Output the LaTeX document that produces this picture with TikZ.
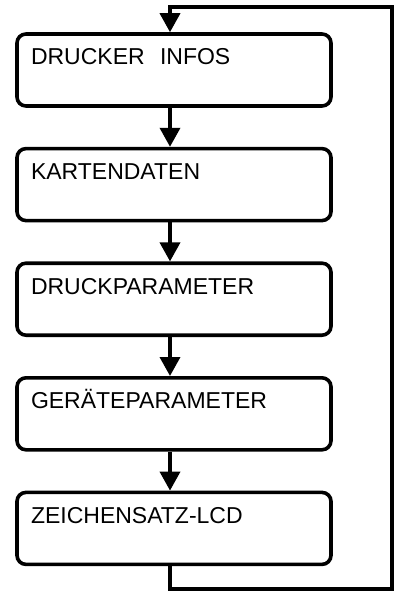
\documentclass[tikz,border=0pt]{standalone}
\usepackage{fontspec}
\setmainfont{Liberation Sans}
\usetikzlibrary{positioning,arrows.meta}

\begin{document}
\begin{tikzpicture}[x=1pt,y=-1pt,node distance=39pt,
        every node/.style={font=\fontsize{23}{26}\selectfont},
        menubox/.style={shape=rectangle,draw,line width=3.6pt,rounded corners=9pt,
            minimum width=314pt,minimum height=72pt,text width=286pt,align=left,
            inner xsep=14pt,inner ysep=0pt,text height=31pt,text depth=41pt},
        flow/.style={draw,line width=3.6pt,line join=miter,-{Triangle[width=20pt,length=19pt]}},
        ]
\useasboundingbox (0,0) rectangle (397,591);

\node [menubox] (drucker) at (174,70) {DRUCKER\ \ INFOS};
\node [menubox, below=of drucker] (karten) {KARTENDATEN};
\node [menubox, below=of karten] (druckpar) {DRUCKPARAMETER};
\node [menubox, below=of druckpar] (geraet) {GER\"ATEPARAMETER};
\node [menubox, below=of geraet] (zeichen) {ZEICHENSATZ-LCD};

% Ruecksprung
\coordinate (loopbot) at (392,589);
\coordinate (looptop) at (392,7);

\path[flow] ([xshift=-4pt]drucker.south) -- ([xshift=-4pt]karten.north);
\path[flow] ([xshift=-4pt]karten.south) -- ([xshift=-4pt]druckpar.north);
\path[flow] ([xshift=-4pt]druckpar.south) -- ([xshift=-4pt]geraet.north);
\path[flow] ([xshift=-4pt]geraet.south) -- ([xshift=-4pt]zeichen.north);
\path[flow] ([xshift=-4pt]zeichen.south) |- (loopbot) -- (looptop) -| ([xshift=-4pt]drucker.north);

\end{tikzpicture}
\end{document}
